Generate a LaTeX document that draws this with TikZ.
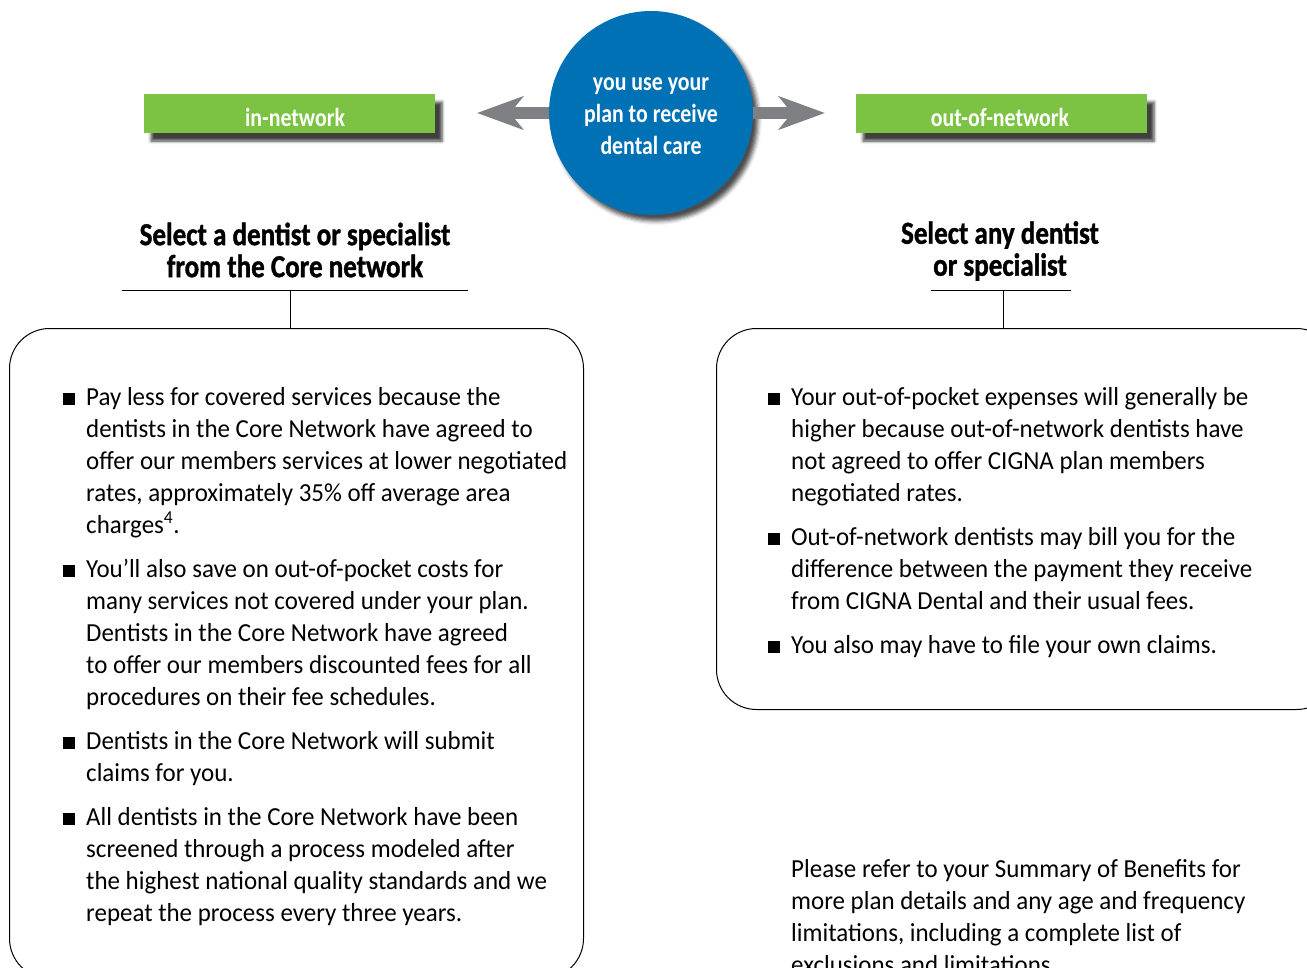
\documentclass[tikz,border=0pt]{standalone}
\usepackage{fontspec}
\setmainfont{Carlito}[FakeStretch=0.96]
\newfontfamily\headfont{Carlito}[FakeStretch=0.84]
\newfontfamily\titlefont{Carlito}[FakeStretch=0.845,FakeBold=1.2]
\usetikzlibrary{arrows.meta,shadows.blur}
\definecolor{netgreen}{HTML}{7CC243}
\definecolor{hubblue}{HTML}{0071B5}
\definecolor{arrowgray}{HTML}{7F8083}
\newcommand\sqbullet{\noindent\llap{\rule{12pt}{12pt}\hspace{11pt}}}
\begin{document}
\begin{tikzpicture}[x=1pt,y=-1pt,
  tag/.style={fill=netgreen, minimum width=291pt, minimum height=39pt, inner sep=0pt,
    blur shadow={shadow xshift=7pt,shadow yshift=-8pt,shadow blur radius=3pt,shadow opacity=75}},
  tagtext/.style={text=white, inner sep=0pt, font=\headfont\bfseries\fontsize{26}{28}\selectfont},
  hub/.style={circle, fill=hubblue, minimum size=204pt, inner sep=0pt,
    blur shadow={shadow xshift=5pt,shadow yshift=-6pt,shadow blur radius=4pt,shadow opacity=70}},
  hubtext/.style={text=white, align=center, inner sep=0pt,
    font=\headfont\bfseries\fontsize{26}{32}\selectfont},
  heading/.style={font=\titlefont\bfseries\fontsize{32}{32}\selectfont, align=center, inner sep=0pt},
  panel/.style={draw=black, line width=1pt, rounded corners=40pt, inner sep=0pt, anchor=north west},
  rulestyle/.style={line width=1pt},
  flow/.style={draw=arrowgray, line width=12pt, -{Stealth[length=46pt,width=33pt,inset=13pt,fill=arrowgray]}},
  bodytext/.style={anchor=base west, inner sep=0pt}
]
\useasboundingbox (0,0) rectangle (1307,967);
\clip (0,0) rectangle (1307,967);

% top row
\node[tag] (innet) at (289.5,113.5) {};
\node[tagtext] (innetlabel) at (295,117) {in-network};
\node[tag] (outnet) at (1001.5,113.5) {};
\node[tagtext] (outnetlabel) at (1000,117) {out-of-network};
\node[hub] (hub) at (651,113) {};
\node[hubtext] (hublabel) at (651,116) {you use your\\plan to receive\\dental care};
\coordinate (ltip) at (477,113);
\coordinate (rtip) at (825,113);
\draw[flow] (hub.west) -- (ltip);
\draw[flow] (hub.east) -- (rtip);

% headings
\node[heading] (lhead) at (295,250) {Select a dentist or specialist\\from the Core network};
\node[heading] (rhead) at (1000,251) {Select any dentist\\or specialist};

% panels
\node[panel, minimum width=574pt, minimum height=650pt] (lpanel) at (9,328) {};
\node[panel, minimum width=620pt, minimum height=381pt] (rpanel) at (716,328) {};

% rules and stems
\coordinate (lulA) at (122,290);
\coordinate (lulB) at (468,290);
\coordinate (lstem) at (290,290);
\draw[rulestyle] (lulA) -- (lulB);
\draw[rulestyle] (lstem) -- (lstem |- lpanel.north);
\coordinate (rulA) at (931,290);
\coordinate (rulB) at (1071,290);
\coordinate (rstem) at (1003,290);
\draw[rulestyle] (rulA) -- (rulB);
\draw[rulestyle] (rstem) -- (rstem |- rpanel.north);

% left text
\node[bodytext] (ltext) at (86,405) {\begin{minipage}[t]{495pt}\fontsize{26}{32}\selectfont
\sqbullet Pay less for covered services because the\\
dentists in the Core Network have agreed to\\
offer our members services at lower negotiated\\
rates, approximately 35\% off average area\\
charges\textsuperscript{4}.\par\vspace{12pt}
\sqbullet You'll also save on out-of-pocket costs for\\
many services not covered under your plan.\\
Dentists in the Core Network have agreed\\
to offer our members discounted fees for all\\
procedures on their fee schedules.\par\vspace{12pt}
\sqbullet Dentists in the Core Network will submit\\
claims for you.\par\vspace{12pt}
\sqbullet All dentists in the Core Network have been\\
screened through a process modeled after\\
the highest national quality standards and we\\
repeat the process every three years.\par
\end{minipage}};

% right text
\node[bodytext] (rtext) at (791,405) {\begin{minipage}[t]{495pt}\fontsize{26}{32}\selectfont
\sqbullet Your out-of-pocket expenses will generally be\\
higher because out-of-network dentists have\\
not agreed to offer CIGNA plan members\\
negotiated rates.\par\vspace{12pt}
\sqbullet Out-of-network dentists may bill you for the\\
difference between the payment they receive\\
from CIGNA Dental and their usual fees.\par\vspace{12pt}
\sqbullet You also may have to file your own claims.\par
\end{minipage}};

% note
\node[bodytext] (note) at (791,877) {\begin{minipage}[t]{495pt}\fontsize{26}{32}\selectfont
\noindent Please refer to your Summary of Benefits for\\
more plan details and any age and frequency\\
limitations, including a complete list of\\
exclusions and limitations.\par
\end{minipage}};
\end{tikzpicture}
\end{document}
